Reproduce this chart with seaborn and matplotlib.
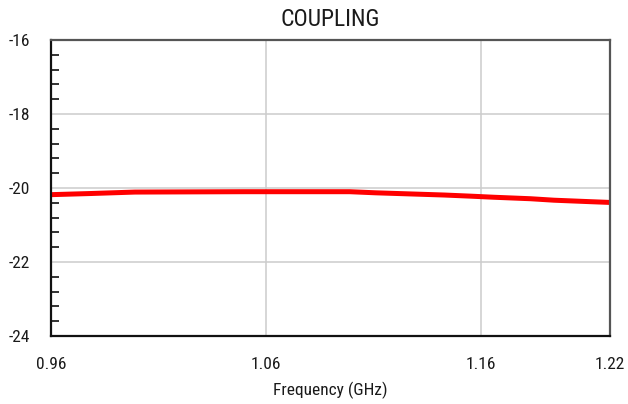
import matplotlib
matplotlib.use("Agg")
import matplotlib.pyplot as plt
import seaborn as sns
import pandas as pd
from matplotlib import font_manager
from matplotlib.ticker import MultipleLocator

freq_ghz = [0.960, 0.978, 0.999, 1.050, 1.099, 1.111, 1.127, 1.143, 1.155, 1.166, 1.183, 1.194, 1.211, 1.220]
coupling_db = [-20.18, -20.15, -20.11, -20.10, -20.10, -20.13, -20.16, -20.19, -20.22, -20.25, -20.29, -20.33, -20.37, -20.39]
x_ticks = [0.96, 1.06, 1.16, 1.22]
x_tick_labels = ["0.96", "1.06", "1.16", "1.22"]
y_ticks = [-24, -22, -20, -18, -16]
y_tick_labels = ["-24", "-22", "-20", "-18", "-16"]

sns.set_theme(style="white")

# prefer a condensed sans face if one is installed
names = sorted({f.name for f in font_manager.fontManager.ttflist})
condensed = [n for n in names if ('Narrow' in n or 'Condensed' in n) and 'Mono' not in n and 'Serif' not in n]
pref = ['Liberation Sans Narrow', 'Roboto Condensed', 'Open Sans Condensed', 'DejaVu Sans Condensed']
chosen = [n for n in pref if n in names] + condensed
families = (chosen[:1] if chosen else []) + ['Liberation Sans', 'DejaVu Sans']
plt.rcParams['font.family'] = families
narrow = bool(chosen)
fs = 12.5 if narrow else 11.5

df = pd.DataFrame({"Frequency": freq_ghz, "Coupling": coupling_db})

fig = plt.figure(figsize=(6.28, 4.04), dpi=100)
ax = fig.add_axes([51/628, 1-336/404, (610-51)/628, (336-40)/404])
sns.lineplot(data=df, x="Frequency", y="Coupling", ax=ax, color="#ff0000", linewidth=3.6)

ax.set_xlim(0.96, 1.22)
ax.set_ylim(-24, -16)
ax.set_xticks(x_ticks)
ax.set_xticklabels(x_tick_labels)
ax.set_yticks(y_ticks)
ax.set_yticklabels(y_tick_labels)
ax.yaxis.set_minor_locator(MultipleLocator(0.4))
ax.tick_params(axis='y', which='minor', direction='in', length=6, width=1.3, color='#222222', left=True)
ax.tick_params(axis='y', which='major', length=0, pad=15, labelsize=fs, labelcolor='#1a1a1a')
ax.tick_params(axis='x', which='major', length=0, pad=15, labelsize=fs, labelcolor='#1a1a1a')

ax.grid(False)
for v in [1.06, 1.16]:
    ax.axvline(v, color='#cccccc', linewidth=1.1, zorder=0)
for v in [-22, -20, -18]:
    ax.axhline(v, color='#cccccc', linewidth=1.1, zorder=0)

for side in ['left', 'bottom']:
    ax.spines[side].set_color('#111111')
    ax.spines[side].set_linewidth(1.6)
for side in ['top', 'right']:
    ax.spines[side].set_color('#555555')
    ax.spines[side].set_linewidth(1.6)
    ax.spines[side].set_visible(True)

ax.set_xlabel("Frequency (GHz)", fontsize=fs, color='#1a1a1a', labelpad=7)
ax.set_ylabel("")
ax.set_title("COUPLING", fontsize=fs + 4.5, color='#1a1a1a', pad=10)

fig.savefig("out.png", dpi=100)
